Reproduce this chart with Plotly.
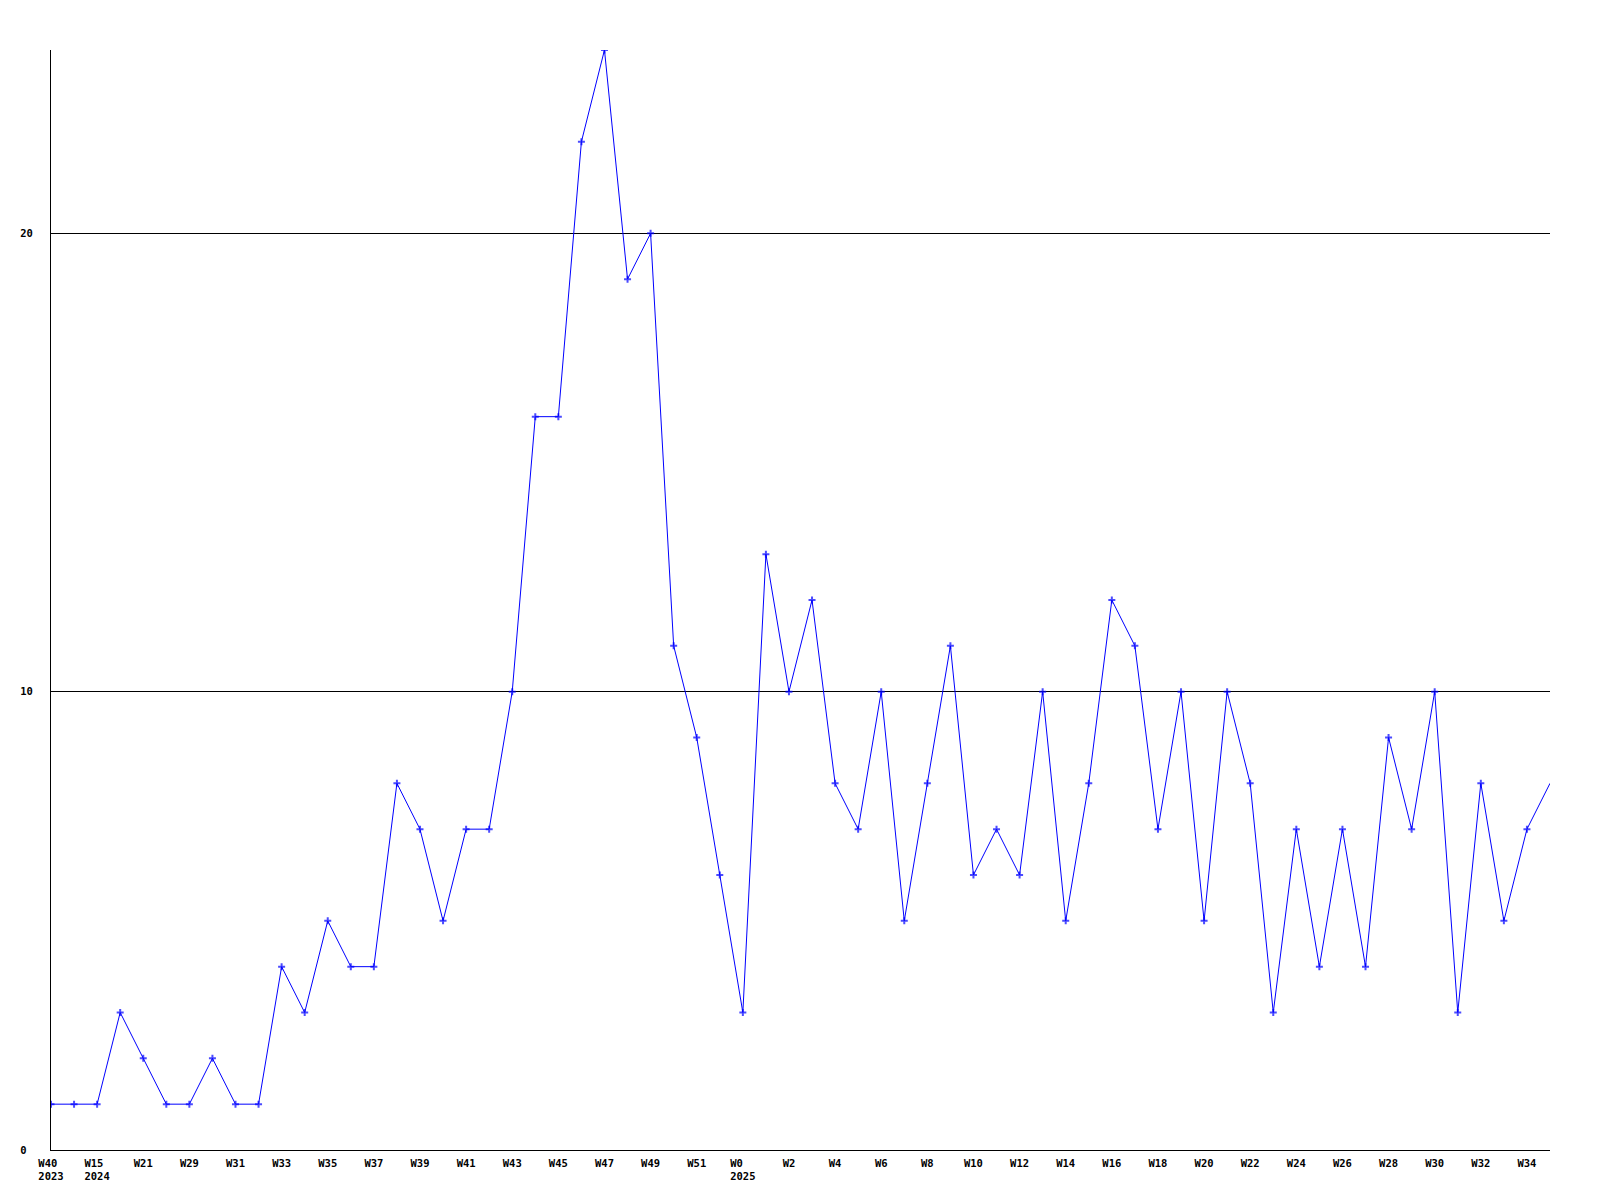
import plotly.graph_objects as go

weeks = ["W40", "W41", "W15", "W17", "W21", "W25",
         "W29", "W30", "W31", "W32", "W33", "W34", "W35", "W36", "W37", "W38",
         "W39", "W40", "W41", "W42", "W43", "W44", "W45", "W46", "W47", "W48",
         "W49", "W50", "W51", "W52",
         "W0", "W1", "W2", "W3", "W4", "W5", "W6", "W7", "W8", "W9", "W10",
         "W11", "W12", "W13", "W14", "W15", "W16", "W17", "W18", "W19", "W20",
         "W21", "W22", "W23", "W24", "W25", "W26", "W27", "W28", "W29", "W30",
         "W31", "W32", "W33", "W34", "W35"]
years = {0: "2023", 2: "2024", 30: "2025"}

values = [1, 1, 1, 3, 2, 1, 1, 2, 1, 1,
          4, 3, 5, 4, 4, 8, 7, 5, 7, 7,
          10, 16, 16, 22, 24, 19, 20, 11, 9, 6,
          3, 13, 10, 12, 8, 7, 10, 5, 8, 11,
          6, 7, 6, 10, 5, 8, 12, 11, 7, 10,
          5, 10, 8, 3, 7, 4, 7, 4, 9, 7,
          10, 3, 8, 5, 7, 8]

y_ticks = [0, 10, 20]
y_ticktext = ["0\u00a0", "10", "20"]

x = list(range(len(values)))
tickvals = x[::2]
ticktext = []
for i in tickvals:
    w = weeks[i]
    if i in years:
        yr = years[i]
        w = w + "\u00a0" * (len(yr) - len(w))
        ticktext.append(w + "<br>" + yr)
    else:
        ticktext.append(w)

marker_sizes = [5] * (len(values) - 1) + [0]

fig = go.Figure()
fig.add_trace(go.Scatter(
    x=x, y=values, mode="lines+markers",
    line=dict(color="#0000ff", width=1),
    marker=dict(symbol="cross-thin", size=marker_sizes, color="#0000ff",
                line=dict(color="#0000ff", width=2)),
    hoverinfo="skip",
))

font = dict(family="DejaVu Sans Mono", size=10.5, color="black", weight="bold")

fig.update_layout(
    width=1592, height=1192,
    margin=dict(l=40, r=50, t=42, b=50),
    paper_bgcolor="white", plot_bgcolor="white",
    showlegend=False,
    xaxis=dict(range=[0, 65], tickvals=tickvals, ticktext=ticktext,
               showgrid=False, zeroline=False, showline=True, linecolor="black",
               linewidth=1, ticks="", tickfont=font, tickangle=0,
               ticklabelstandoff=3),
    yaxis=dict(range=[0, 24], tickvals=y_ticks, ticktext=y_ticktext,
               showgrid=True, gridcolor="black", gridwidth=1, zeroline=False,
               showline=True, linecolor="black", linewidth=1, ticks="",
               tickfont=font, ticklabelstandoff=15),
)

fig.write_html("out.html", config={"displayModeBar": False})
